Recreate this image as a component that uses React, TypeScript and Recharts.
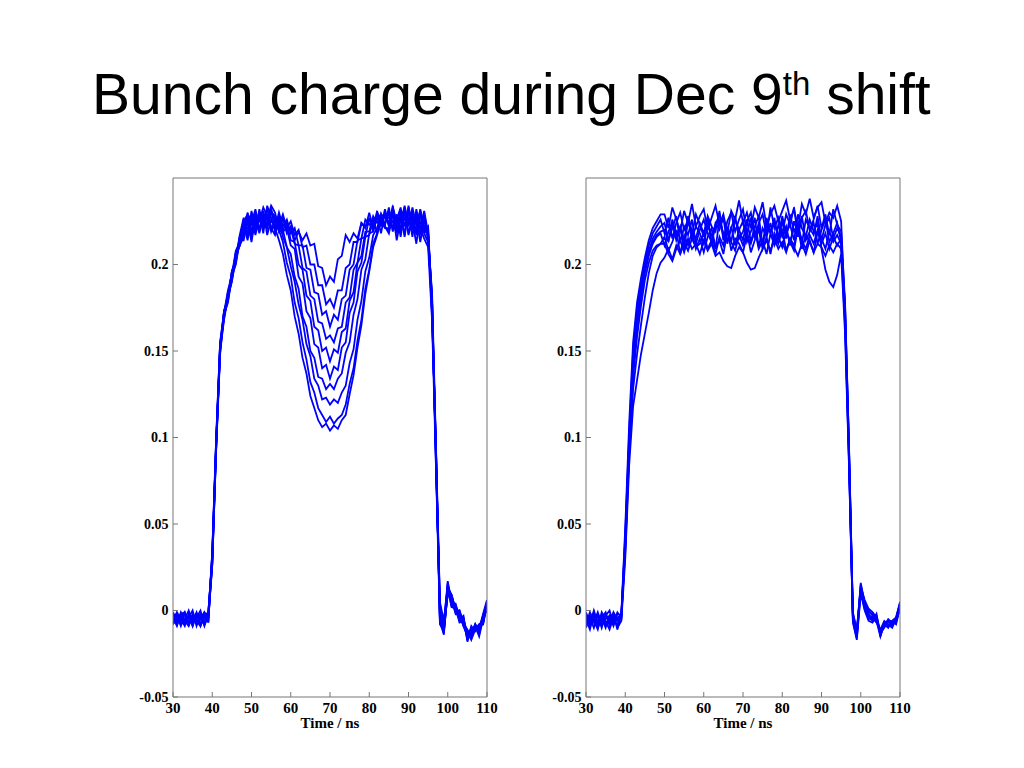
import { LineChart, Line, XAxis, YAxis } from 'recharts';

const time = [
  30, 31, 32, 33, 34, 35, 36, 37, 38, 39,
  40, 41, 42, 43, 44, 45, 46, 47, 48, 49,
  50, 51, 52, 53, 54, 55, 56, 57, 58, 59,
  60, 61, 62, 63, 64, 65, 66, 67, 68, 69,
  70, 71, 72, 73, 74, 75, 76, 77, 78, 79,
  80, 81, 82, 83, 84, 85, 86, 87, 88, 89,
  90, 91, 92, 93, 94, 95, 96, 97, 98, 99,
  100, 101, 102, 103, 104, 105, 106, 107, 108, 109, 110,
];

const xTicks = [30, 40, 50, 60, 70, 80, 90, 100, 110];
const yTicks = [-0.05, 0, 0.05, 0.1, 0.15, 0.2];

// left panel: bunch charge per trace, in units of 0.001 (t = 30..110 ns)
const left1 = [
  -2, -8, -1, -6, -9, -3, -5, -8, -1, -4,
  26, 95, 150, 168, 181, 190, 204, 211,
  216, 225, 213, 227, 219, 231, 217, 226,
  221, 214, 206, 194, 185, 170, 160, 146, 137, 124, 117, 110, 106, 108, 104, 107, 105, 110, 113, 125, 136, 152, 165, 183, 196, 210, 217, 225, 221,
  221, 230, 214, 226, 233, 218, 225, 212, 229, 222, 216,
  180, 86, -2, -11, 16, 4, 3, -6, -5, -17, -9, -12, -10, -3, 5,
];
const left2 = [
  -7, -1, -5, -9, -2, -6, -4, 0, -8, -3,
  33, 99, 154, 173, 180, 196, 203, 216,
  223, 214, 228, 218, 232, 221, 229, 219,
  226, 220, 213, 201, 193, 178, 169, 155, 145, 132, 126, 117, 113, 109, 112, 108, 111, 113, 119, 131, 140, 156, 168, 186, 197, 212, 218, 227, 222,
  219, 232, 222, 228, 217, 234, 221, 227, 213, 226, 219,
  170, 94, -8, -12, 10, 6, -2, 0, -8, -11, -15, -8, -11, -4, 0,
];
const left3 = [
  -4, -9, -2, -1, -7, -5, -2, -9, -3, -1,
  29, 96, 153, 169, 183, 191, 206, 211,
  225, 229, 216, 224, 230, 218, 234, 227,
  219, 225, 216, 210, 199, 190, 177, 168, 154, 147, 134, 130, 122, 123, 119, 122, 120, 126, 130, 143, 151, 168, 179, 196, 204, 217, 221, 229, 223,
  233, 220, 229, 216, 231, 225, 230, 217, 224, 228, 214,
  184, 95, 5, -6, 14, 9, 0, -1, -9, -15, -14, -9, -15, -5, 2,
];
const left4 = [
  -8, -2, -6, -5, 0, -7, -4, -2, -9, -2,
  27, 93, 148, 171, 178, 193, 200, 214,
  214, 226, 229, 217, 228, 224, 221, 230,
  228, 219, 220, 210, 206, 193, 186, 170, 164, 150, 146, 135, 134, 128, 131, 128, 134, 137, 149, 155, 171, 180, 197, 203, 218, 219, 228, 218, 230,
  222, 234, 219, 231, 226, 230, 216, 232, 221, 215, 210,
  168, 83, -6, -14, 12, 2, 1, -7, -6, -12, -17, -11, -8, -6, 4,
];
const left5 = [
  -1, -6, -3, -8, -4, 0, -9, -3, -5, -6,
  34, 100, 155, 172, 185, 194, 208, 213,
  226, 217, 231, 221, 225, 233, 228, 222,
  221, 228, 219, 221, 211, 209, 193, 189, 173, 169, 154, 152, 140, 142, 134, 141, 139, 152, 155, 172, 178, 196, 201, 216, 217, 227, 218, 229, 222,
  218, 229, 226, 233, 216, 231, 227, 219, 230, 218, 213,
  178, 88, 2, -12, 15, 4, 4, -5, -3, -18, -11, -10, -9, -8, 5,
];
const left6 = [
  -6, -3, -9, -2, -7, -6, -1, -8, -3, -5,
  28, 97, 151, 172, 179, 194, 201, 215,
  222, 228, 218, 230, 220, 227, 232, 221,
  217, 227, 220, 224, 214, 213, 200, 197, 182, 179, 164, 162, 150, 152, 144, 151, 149, 161, 163, 179, 184, 201, 205, 219, 219, 228, 224, 227, 223,
  231, 219, 228, 225, 232, 217, 229, 223, 231, 220, 217,
  175, 91, -4, -8, 17, 3, 3, -3, -8, -12, -14, -8, -13, -3, 0,
];
const left7 = [
  -2, -7, -4, -8, -3, -9, -2, -5, -7, -1,
  30, 98, 149, 173, 180, 196, 203, 217,
  227, 216, 224, 232, 221, 225, 226, 234,
  230, 220, 227, 219, 221, 212, 211, 198, 196, 182, 180, 167, 166, 157, 159, 155, 163, 164, 178, 181, 197, 201, 215, 216, 227, 219, 230, 226, 228,
  224, 233, 225, 220, 231, 222, 233, 223, 218, 229, 217,
  181, 84, 3, -9, 9, 8, 1, -3, -9, -13, -12, -9, -11, -2, 6,
];
const left8 = [
  -8, -3, -6, -1, -8, -2, -6, -9, -2, -5,
  27, 94, 152, 170, 184, 192, 206, 211,
  219, 230, 220, 223, 229, 228, 222, 231,
  221, 230, 222, 226, 218, 221, 211, 211, 198, 197, 184, 183, 171, 173, 164, 171, 168, 180, 182, 197, 200, 214, 215, 226, 223, 226, 226, 229, 227,
  227, 225, 218, 230, 228, 227, 225, 219, 232, 222, 221,
  172, 93, -5, -13, 14, 2, 2, -5, -4, -15, -12, -11, -8, -8, 3,
];
const left9 = [
  -3, -2, -8, -6, -3, -9, -2, -5, -8, -2,
  31, 97, 154, 170, 182, 191, 207, 212,
  224, 221, 216, 228, 225, 226, 224, 232,
  225, 222, 229, 221, 225, 217, 220, 210, 211, 200, 200, 188, 188, 177, 180, 175, 185, 185, 198, 200, 213, 213, 224, 222, 226, 224, 227, 225, 229,
  228, 229, 219, 232, 222, 233, 221, 230, 220, 231, 218,
  179, 92, 4, -10, 12, 9, 0, 0, -7, -14, -13, -8, -14, -3, 1,
];
const left10 = [
  -6, -8, -3, -2, -7, -3, -8, -4, -1, -7,
  33, 95, 151, 173, 181, 196, 202, 215,
  217, 224, 223, 226, 218, 228, 227, 230,
  228, 219, 227, 218, 222, 214, 219, 214, 218, 211, 212, 199, 198, 188, 193, 190, 203, 205, 217, 213, 218, 215, 224, 221, 230, 221, 231, 222, 232,
  223, 225, 225, 221, 234, 224, 226, 226, 228, 219, 222,
  173, 90, -3, -12, 11, 7, -1, -4, -5, -16, -10, -12, -9, -7, 4,
];

// right panel, same units
const right1 = [
  -2, -9, 0, -7, -4, -10, -3, -6, -8,
  -2, 48, 108, 155, 178, 192, 204, 214, 221, 225, 229,
  229, 221, 233, 226, 219, 231, 224, 235, 222, 228,
  232, 220, 227, 234, 223, 229, 218, 231, 226, 237,
  224, 230, 221, 233, 227, 236, 222, 229, 234, 225,
  231, 237, 226, 232, 221, 235, 229, 238, 227, 233,
  236, 224, 230, 227, 234, 225,
  172, 92, -4, -15, 15, 3, -2, -5, -3, -14, -8, -6, -9, -5, 4,
];
const right2 = [
  -8, -1, -6, -3, -10, -2, -7, -1, -5,
  -4, 44, 102, 150, 174, 189, 201, 211, 218, 222, 226,
  218, 227, 215, 224, 230, 220, 226, 217, 229, 223,
  216, 228, 222, 219, 231, 214, 225, 230, 219, 226,
  232, 218, 227, 215, 224, 229, 217, 233, 221, 227,
  218, 229, 223, 233, 216, 227, 231, 220, 226, 234,
  221, 229, 217, 232, 223, 219,
  178, 96, -1, -12, 13, 5, 0, -3, -6, -12, -9, -7, -6, -8, 2,
];
const right3 = [
  -4, -8, -6, -11, -1, -5, -3, -9, -2,
  -3, 41, 98, 145, 169, 185, 198, 208, 215, 219, 222,
  224, 214, 221, 228, 213, 222, 217, 226, 212, 220,
  226, 218, 213, 224, 220, 227, 212, 221, 228, 215,
  219, 226, 213, 222, 228, 211, 223, 218, 227, 214,
  225, 215, 229, 219, 224, 212, 226, 221, 217, 228,
  214, 223, 227, 215, 221, 216,
  168, 88, -6, -16, 12, 2, -4, -6, -2, -15, -7, -9, -8, -4, 5,
];
const right4 = [
  -10, -3, -7, -1, -8, -6, -11, -4, -6,
  -5, 38, 95, 140, 164, 181, 195, 205, 212, 216, 218,
  211, 219, 224, 214, 221, 209, 226, 215, 222, 218,
  212, 223, 217, 209, 226, 218, 214, 222, 211, 220,
  225, 213, 219, 227, 210, 221, 216, 224, 212, 223,
  216, 222, 211, 225, 218, 228, 214, 219, 224, 212,
  220, 226, 213, 218, 224, 213,
  175, 94, -3, -13, 16, 4, -1, -2, -5, -13, -10, -6, -7, -6, 1,
];
const right5 = [
  -1, -7, -3, -9, -2, -8, -5, -7, -1,
  -4, 36, 92, 135, 158, 176, 191, 201, 208, 211, 212,
  216, 208, 213, 220, 206, 217, 211, 219, 209, 215,
  207, 216, 221, 210, 214, 206, 219, 213, 208, 217,
  211, 219, 207, 214, 220, 209, 216, 206, 218, 212,
  220, 208, 215, 211, 221, 209, 217, 213, 207, 219,
  212, 218, 209, 216, 211, 215,
  170, 90, -5, -14, 11, 1, -5, -4, -7, -11, -6, -8, -10, -5, 3,
];
const right6 = [
  -5, -11, -2, -6, -4, -1, -9, -2, -10,
  -6, 30, 84, 118, 133, 148, 160, 172, 185, 195, 201,
  204, 209, 203, 211, 206, 213, 208, 215, 210, 212,
  218, 209, 214, 206, 216, 211, 221, 208, 215, 212,
  207, 217, 212, 220, 209, 214, 206, 218, 211, 216,
  210, 219, 213, 208, 222, 214, 209, 217, 212, 220,
  215, 209, 219, 213, 217, 212,
  176, 95, -2, -11, 14, 6, 1, -1, -4, -14, -9, -5, -7, -7, 2,
];
const right7 = [
  -9, -4, -10, -2, -6, -3, 0, -8, -4,
  -3, 34, 90, 128, 148, 165, 181, 195, 205, 210, 212,
  212, 206, 202, 209, 214, 207, 215, 209, 212, 206,
  214, 208, 212, 205, 207, 202, 199, 198, 205, 210,
  207, 201, 197, 198, 204, 209, 214, 208, 215, 209,
  213, 207, 215, 210, 205, 212, 206, 214, 207, 212,
  210, 205, 211, 207, 212, 209,
  165, 86, -7, -17, 10, 0, -6, -7, -3, -12, -8, -10, -6, -4, 4,
];
const right8 = [
  -3, -6, -1, -10, -5, -8, -4, -2, -11,
  -2, 40, 97, 143, 167, 183, 197, 207, 213, 217, 219,
  220, 213, 226, 217, 222, 211, 228, 219, 215, 224,
  218, 227, 212, 223, 229, 216, 221, 213, 226, 220,
  214, 225, 230, 217, 222, 211, 227, 219, 224, 216,
  228, 218, 223, 214, 229, 221, 216, 226, 219, 224,
  209, 197, 190, 187, 194, 206,
  160, 84, -4, -13, 13, 4, -3, -4, -6, -15, -7, -6, -8, -6, 3,
];

const leftTraces = [left1, left2, left3, left4, left5, left6, left7, left8, left9, left10];
const rightTraces = [right1, right2, right3, right4, right5, right6, right7, right8];

const toRows = (traces: number[][]) =>
  time.map((t, i) => {
    const row: Record<string, number> = { t };
    traces.forEach((tr, k) => {
      row[`s${k}`] = tr[i] / 1000;
    });
    return row;
  });

const serif = "'Liberation Serif', 'Times New Roman', serif";
const frame = '#777';

const Panel = ({ traces, left }: { traces: number[][]; left: number }) => {
  const rows = toRows(traces);
  return (
    <div style={{ position: 'absolute', left, top: 160.3 }}>
      <LineChart width={384} height={574} data={rows} margin={{ top: 9, right: 19, bottom: 0, left: 0 }}>
        <XAxis
          dataKey="t"
          type="number"
          domain={[30, 110]}
          ticks={xTicks}
          interval={0}
          allowDataOverflow
          height={45}
          tickSize={-5}
          tickMargin={10}
          stroke={frame}
          tick={{ fill: '#000', fontSize: 15, fontFamily: serif, fontWeight: 'bold' }}
          label={{
            value: 'Time / ns',
            position: 'insideBottom',
            offset: 14,
            style: { fill: '#000', fontSize: 15, fontFamily: serif, fontWeight: 'bold' },
          }}
        />
        <XAxis
          xAxisId="top"
          orientation="top"
          type="number"
          domain={[30, 110]}
          ticks={xTicks}
          interval={0}
          allowDataOverflow
          height={1}
          tickSize={-5}
          tick={false}
          stroke={frame}
        />
        <YAxis
          type="number"
          domain={[-0.05, 0.25]}
          ticks={yTicks}
          interval={0}
          allowDataOverflow
          width={50}
          tickSize={-5}
          tickMargin={9.5}
          stroke={frame}
          tick={{ fill: '#000', fontSize: 14, fontFamily: serif, fontWeight: 'bold' }}
        />
        <YAxis
          yAxisId="right"
          orientation="right"
          type="number"
          domain={[-0.05, 0.25]}
          ticks={yTicks}
          interval={0}
          allowDataOverflow
          width={1}
          tickSize={-5}
          tick={false}
          stroke={frame}
        />
        {traces.map((_, k) => (
          <Line
            key={k}
            type="linear"
            dataKey={`s${k}`}
            stroke="#0000ff"
            strokeWidth={1.8}
            dot={false}
            isAnimationActive={false}
          />
        ))}
      </LineChart>
    </div>
  );
};

const App = () => {
  return (
    <div style={{ position: 'relative', width: 1008, height: 752, background: '#fff' }}>
      <svg width={1008} height={140} style={{ position: 'absolute', left: 0, top: 0 }}>
        <text x={84} y={106.3} fontFamily="'Liberation Sans', Arial, sans-serif" fontSize={57} fill="#000">
          Bunch charge during Dec 9
          <tspan fontSize={33} dy={-19}>th</tspan>
          <tspan dy={19}> shift</tspan>
        </text>
      </svg>
      <Panel traces={leftTraces} left={115.3} />
      <Panel traces={rightTraces} left={527.7} />
    </div>
  );
};

export default App;
